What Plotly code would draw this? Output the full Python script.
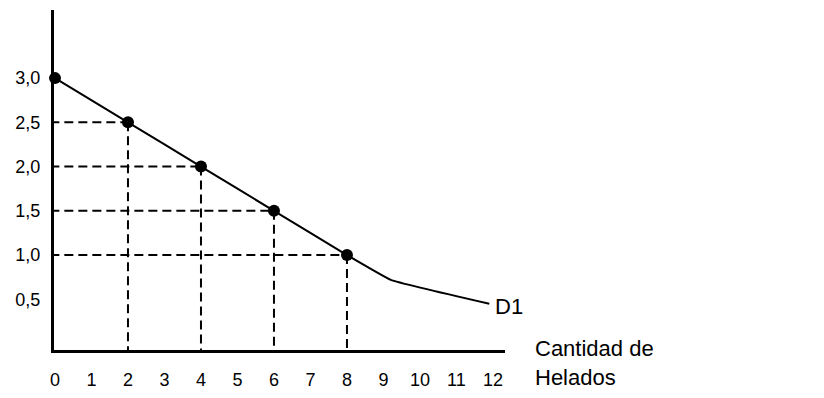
import plotly.graph_objects as go

# Demand curve D1 (quantity of ice creams vs price)
curve_x = [0, 2, 4, 6, 8, 9.2, 11.9]
curve_y = [3.0, 2.5, 2.0, 1.5, 1.0, 0.72, 0.45]

# Marked points
pts_x = [0, 2, 4, 6, 8]
pts_y = [3.0, 2.5, 2.0, 1.5, 1.0]

# Guide (dashed) points
guide_x = [2, 4, 6, 8]
guide_y = [2.5, 2.0, 1.5, 1.0]

x_ticks = list(range(0, 13))
y_ticks = [0.5, 1.0, 1.5, 2.0, 2.5, 3.0]
y_tick_text = ["0,5", "1,0", "1,5", "2,0", "2,5", "3,0"]

curve_label = "D1"
x_title = "Cantidad de<br>Helados"

X_RANGE = [-0.027, 12.33]
Y_RANGE = [-0.073, 3.77]

FONT = "Liberation Sans, Arial, sans-serif"

fig = go.Figure()

dash_style = dict(color="black", width=2, dash="9px,5px")
for gx, gy in zip(guide_x, guide_y):
    fig.add_trace(go.Scatter(x=[X_RANGE[0] - 0.1, gx], y=[gy, gy], mode="lines",
                             line=dash_style, showlegend=False, hoverinfo="skip",
                             cliponaxis=False))
    fig.add_trace(go.Scatter(x=[gx, gx], y=[gy, Y_RANGE[0] - 0.08], mode="lines",
                             line=dash_style, showlegend=False, hoverinfo="skip",
                             cliponaxis=False))

fig.add_trace(go.Scatter(x=curve_x, y=curve_y, mode="lines",
                         line=dict(color="black", width=2, shape="spline", smoothing=0.3),
                         showlegend=False, cliponaxis=False))
fig.add_trace(go.Scatter(x=pts_x, y=pts_y, mode="markers",
                         marker=dict(color="black", size=12),
                         showlegend=False, cliponaxis=False))

fig.add_annotation(x=curve_x[-1], y=curve_y[-1], text=curve_label, showarrow=False,
                   xanchor="left", yanchor="middle", xshift=4, yshift=-3,
                   font=dict(family=FONT, size=22, color="black"))
fig.add_annotation(xref="paper", yref="paper", x=1, y=0, text=x_title, showarrow=False,
                   xanchor="left", yanchor="top", align="left", xshift=28, yshift=16,
                   font=dict(family=FONT, size=22, color="black"))

fig.update_xaxes(range=X_RANGE, tickvals=x_ticks, showgrid=False, zeroline=False,
                 showline=True, linecolor="black", linewidth=3, ticks="",
                 ticklabelstandoff=11,
                 tickfont=dict(family=FONT, size=18, color="black"))
fig.update_yaxes(range=Y_RANGE, tickvals=y_ticks, ticktext=y_tick_text, showgrid=False,
                 zeroline=False, showline=True, linecolor="black", linewidth=3, ticks="",
                 ticklabelstandoff=7,
                 tickfont=dict(family=FONT, size=18, color="black"))

# the page body adds an 8px offset; margins compensate for it
fig.update_layout(width=824, height=398,
                  margin=dict(l=46, r=327, t=2, b=56, autoexpand=False),
                  plot_bgcolor="white", paper_bgcolor="white", showlegend=False,
                  font=dict(family=FONT, color="black"))

fig.write_html("out.html")
